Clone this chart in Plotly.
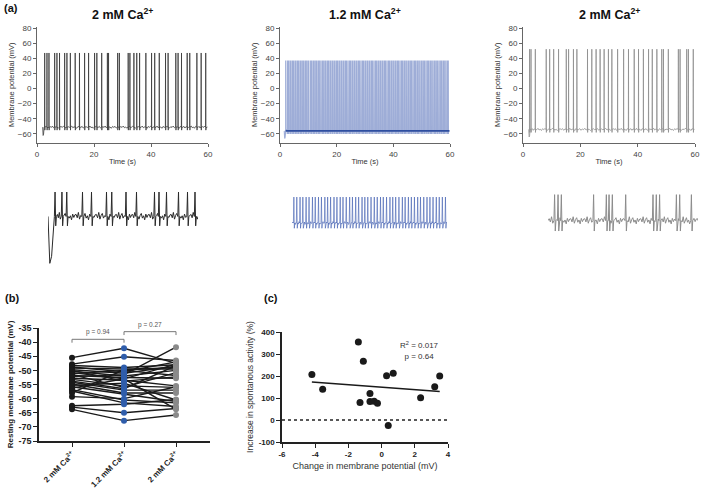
import numpy as np
import plotly.graph_objects as go

FONT = "Arial, Liberation Sans, sans-serif"
W, H = 709, 490

# ---------------- (a) whole recordings: spike times (s) ----------------
spikes_2ca_first = [2.7, 3.5, 4.2, 6.2, 7.0, 7.9, 9.7, 10.5, 11.7, 13.4, 14.9, 16.7,
                    18.1, 20.2, 21.0, 22.7, 24.7, 25.1, 28.3, 28.9, 32.0, 32.6, 34.0,
                    35.0, 36.0, 38.2, 40.2, 41.3, 42.9, 45.1, 46.0, 48.7, 49.5, 50.7,
                    52.7, 53.6, 56.1, 57.6, 59.2]
spikes_12ca = [2.0, 2.6, 3.0, 3.5, 3.9, 4.4, 4.8, 5.3, 5.7, 6.2, 6.6, 7.1, 7.5, 8.0,
               8.4, 8.9, 9.3, 9.8, 10.2, 10.8, 11.2, 11.7, 12.1, 12.6, 13.0, 13.5,
               13.9, 14.4, 14.9, 15.3, 15.8, 16.2, 16.7, 17.1, 17.6, 18.0, 18.5, 19.0,
               19.4, 19.9, 20.3, 20.8, 21.2, 21.7, 22.2, 22.6, 23.1, 23.5, 24.0, 24.5,
               24.9, 25.4, 25.8, 26.3, 26.8, 27.2, 27.7, 28.1, 28.6, 29.1, 29.5, 30.0,
               30.4, 30.9, 31.4, 31.8, 32.3, 32.7, 33.2, 33.7, 34.1, 34.6, 35.0, 35.5,
               36.0, 36.4, 36.9, 37.3, 37.8, 38.3, 38.7, 39.2, 39.6, 40.1, 40.6, 41.0,
               41.5, 41.9, 42.4, 42.9, 43.3, 43.8, 44.2, 44.7, 45.2, 45.6, 46.1, 46.5,
               47.0, 47.5, 47.9, 48.4, 48.8, 49.3, 49.8, 50.2, 50.7, 51.1, 51.6, 52.1,
               52.5, 53.0, 53.4, 53.9, 54.4, 54.8, 55.3, 55.7, 56.2, 56.7, 57.1, 57.6,
               58.0, 58.5, 59.0, 59.4]
spikes_2ca_wash = [2.3, 2.8, 4.3, 8.1, 9.3, 10.7, 12.4, 15.1, 15.9, 17.6, 18.8, 22.5,
                   24.0, 25.5, 26.9, 28.3, 29.8, 31.0, 33.0, 35.1, 36.8, 38.8, 40.3,
                   42.0, 43.8, 45.1, 46.7, 48.4, 49.0, 50.7, 54.2, 54.8, 57.1, 57.7, 59.4]

rec_labels = ["2 mM Ca<sup>2+</sup>", "1.2 mM Ca<sup>2+</sup>", "2 mM Ca<sup>2+</sup>"]
rec_start = [2.0, 1.5, 2.0]
rec_rest = [-51, -56, -54]
rec_peak = [47, 37, 52]
rec_dip = [-62, -66, -64]
rec_colors = ["#3a3a3a", "rgba(62,92,176,0.5)", "#8e8e8e"]
inset_colors = ["#2a2a2a", "rgba(62,92,176,0.75)", "#8c8c8c"]
wiggle_rec = [1.0, -1.2, 0.6, -0.4, 1.4, -0.8, 0.2, -1.5, 0.9, -0.3]

# ---------------- (a) expanded traces (arbitrary time 0-10) ----------------
inset_spikes = [
    [0.47, 0.93, 1.25, 2.3, 2.9, 3.9, 4.25, 5.2, 5.9, 7.1, 7.4, 7.9, 8.7, 9.3, 9.8],
    [0.12, 0.31, 0.52, 0.70, 0.91, 1.10, 1.32, 1.50, 1.71, 1.90, 2.12, 2.30, 2.49,
     2.71, 2.90, 3.11, 3.29, 3.50, 3.72, 3.90, 4.11, 4.30, 4.52, 4.70, 4.89, 5.10,
     5.31, 5.50, 5.71, 5.89, 6.10, 6.32, 6.50, 6.69, 6.90, 7.12, 7.30, 7.51, 7.70,
     7.90, 8.11, 8.29, 8.50, 8.71, 8.90, 9.10, 9.31, 9.50, 9.70, 9.90],
    [0.44, 0.67, 0.89, 3.04, 3.89, 4.07, 4.29, 5.18, 7.0, 7.22, 7.44, 8.56, 8.78, 9.56],
]
inset_peak = [73, 75, 80]
inset_trough = [-28, -15, -32]
inset_dip = [-140, None, None]
inset_wiggle = [[6, -4, 12, -8, 3, 9, -5, 2, -10, 7, -3, 5],
                [3, -4, 1, -3, 4, -1],
                [6, -4, 12, -8, 3, 9, -5, 2, -10, 7, -3, 5]]

# ---------------- (b) resting membrane potential, paired cells (mV) ----------------
rmp_2ca = [-45.5, -47.8, -48.3, -48.8, -49.2, -49.8, -50.3, -50.8, -51.2, -51.8,
           -52.2, -52.8, -53.2, -53.8, -54.2, -54.8, -55.3, -55.8, -56.3, -56.8,
           -57.3, -59.3, -62.5, -63.0, -63.8, -58.0, -50.0, -51.5]
rmp_12ca = [-42.2, -45.2, -49.0, -50.5, -49.5, -51.0, -52.0, -53.0, -50.0, -52.5,
            -51.5, -53.5, -55.5, -56.5, -57.0, -58.0, -54.5, -58.3, -53.0, -60.5,
            -61.5, -60.0, -62.0, -65.0, -67.8, -49.8, -53.8, -56.0]
rmp_2ca_wash = [-47.5, -46.5, -48.0, -47.0, -49.5, -48.5, -50.0, -47.8, -51.8, -52.8,
                -41.8, -55.5, -56.0, -48.3, -57.0, -58.0, -60.5, -61.0, -63.8, -61.5,
                -62.8, -55.8, -60.3, -63.5, -65.8, -49.0, -52.3, -50.8]
b_categories = ["2 mM Ca<sup>2+</sup>", "1.2 mM Ca<sup>2+</sup>", "2 mM Ca<sup>2+</sup>"]
b_pvalues = ["p = 0.94", "p = 0.27"]

# ---------------- (c) change in RMP vs increase in activity ----------------
delta_vm = [-4.2, -3.55, -1.4, -1.1, -1.3, -0.7, -0.7, -0.45, -0.25, 0.3, 0.4, 0.7,
            2.35, 3.2, 3.5]
activity_increase = [207, 140, 355, 267, 79, 120, 84, 85, 76, 201, -25, 212, 101,
                     151, 200]


def spike_trace(spikes, rest, peak, trough, start, end, step, width, wiggle,
                dip=None, dip_len=0.0):
    t, v = [start], [rest]
    if dip is not None:
        t += [start + dip_len * 0.3, start + dip_len * 0.6, start + dip_len]
        v += [dip, dip + (rest - dip) * 0.15, rest]
    prev = t[-1]
    k = 0
    for s in list(spikes) + [end + 2 * width]:
        n = int((s - width - prev) / step)
        for j in range(1, n + 1):
            t.append(prev + j * (s - width - prev) / (n + 1))
            v.append(rest + wiggle[k % len(wiggle)])
            k += 1
        if s > end:
            break
        t += [s - width, s, s + width, s + 2 * width]
        v += [rest, peak, trough, rest]
        prev = s + 2 * width
    t.append(end)
    v.append(rest)
    return t, v


def dom_x(a, b):
    return [a / W, b / W]


def dom_y(top, bottom):
    return [1 - bottom / H, 1 - top / H]


fig = go.Figure()

# (a) whole recordings
rec_spikes = [spikes_2ca_first, spikes_12ca, spikes_2ca_wash]
for i in range(3):
    t, v = spike_trace(rec_spikes[i], rec_rest[i], rec_peak[i], rec_rest[i] - 4,
                       rec_start[i], 59.8, 0.45, 0.05, wiggle_rec,
                       dip=rec_dip[i], dip_len=0.5)
    fig.add_trace(go.Scatter(x=t, y=v, mode="lines", xaxis=f"x{i+1}", yaxis=f"y{i+1}",
                             line=dict(color=rec_colors[i], width=0.8 if i != 1 else 1.1),
                             hoverinfo="skip"))
    if i == 1:
        # darker resting band under the dense spikes
        fig.add_trace(go.Scatter(x=[rec_start[i] + 0.5, 59.8], y=[rec_rest[i], rec_rest[i]],
                                 mode="lines", xaxis="x2", yaxis="y2",
                                 line=dict(color="#2f4fa0", width=1.6), hoverinfo="skip"))

# (a) expanded traces
for i in range(3):
    t, v = spike_trace(inset_spikes[i], 0, inset_peak[i], inset_trough[i],
                       0.0, 10.0, 0.08 if i != 1 else 0.05, 0.045 if i != 1 else 0.03,
                       inset_wiggle[i], dip=inset_dip[i], dip_len=0.4)
    fig.add_trace(go.Scatter(x=t, y=v, mode="lines", xaxis=f"x{i+4}", yaxis=f"y{i+4}",
                             line=dict(color=inset_colors[i], width=1 if i != 1 else 0.8),
                             hoverinfo="skip"))

# (b) paired lines
lx, ly = [], []
for a, b, c in zip(rmp_2ca, rmp_12ca, rmp_2ca_wash):
    lx += [0, 1, 2, None]
    ly += [a, b, c, None]
fig.add_trace(go.Scatter(x=lx, y=ly, mode="lines", xaxis="x7", yaxis="y7",
                         line=dict(color="#1a1a1a", width=1.4), hoverinfo="skip"))
for idx, (vals, col) in enumerate([(rmp_2ca, "#1a1a1a"), (rmp_12ca, "#2f5dab"),
                                   (rmp_2ca_wash, "#8a8a8a")]):
    fig.add_trace(go.Scatter(x=[idx] * len(vals), y=vals, mode="markers",
                             xaxis="x7", yaxis="y7",
                             marker=dict(color=col, size=6), hoverinfo="skip"))

# (c) scatter + regression
slope, icpt = np.polyfit(delta_vm, activity_increase, 1)
fx = [min(delta_vm), max(delta_vm)]
fig.add_trace(go.Scatter(x=fx, y=[slope * x + icpt for x in fx], mode="lines",
                         xaxis="x8", yaxis="y8", line=dict(color="#1a1a1a", width=1.5),
                         hoverinfo="skip"))
fig.add_trace(go.Scatter(x=delta_vm, y=activity_increase, mode="markers",
                         xaxis="x8", yaxis="y8", marker=dict(color="#1a1a1a", size=7),
                         hoverinfo="skip"))

axis_col = "#666666"


def rec_axes(n, x0, x1):
    xa = dict(domain=dom_x(x0, x1), range=[0, 60], tickvals=[0, 20, 40, 60],
              showline=True, linecolor=axis_col, linewidth=1, ticks="outside",
              ticklen=3, tickcolor=axis_col, showgrid=False, zeroline=False,
              tickfont=dict(size=8, color="#444"), anchor=f"y{n}", automargin=False,
              title=dict(text="Time (s)", font=dict(size=7.5, color="#333"), standoff=1))
    ya = dict(domain=dom_y(26.5, 143), range=[-72, 82],
              tickvals=[-60, -40, -20, 0, 20, 40, 60, 80],
              showline=True, linecolor=axis_col, linewidth=1, ticks="outside",
              ticklen=3, tickcolor=axis_col, showgrid=False, zeroline=False,
              tickfont=dict(size=8, color="#444"), anchor=f"x{n}", automargin=False,
              title=dict(text="Membrane potential (mV)",
                         font=dict(size=7.5, color="#333"), standoff=2))
    return xa, ya


layout_axes = {}
for n, (x0, x1) in enumerate([(37, 208), (280, 450), (523, 695)], start=1):
    xa, ya = rec_axes(n, x0, x1)
    layout_axes["xaxis" if n == 1 else f"xaxis{n}"] = xa
    layout_axes["yaxis" if n == 1 else f"yaxis{n}"] = ya

hidden = dict(visible=False, showgrid=False, zeroline=False, automargin=False)
inset_dom = [((48, 198), (191, 264), [-142, 76]),
             ((292, 447), (196, 230), [-20, 78]),
             ((548, 698), (194, 232), [-35, 82])]
for k, ((x0, x1), (yt, yb), yr) in enumerate(inset_dom, start=4):
    layout_axes[f"xaxis{k}"] = dict(hidden, domain=dom_x(x0, x1), range=[0, 10],
                                    anchor=f"y{k}")
    layout_axes[f"yaxis{k}"] = dict(hidden, domain=dom_y(yt, yb), range=yr,
                                    anchor=f"x{k}")

layout_axes["xaxis7"] = dict(domain=dom_x(39, 210), range=[-0.635, 2.654],
                             tickvals=[0, 1, 2], ticktext=[f"<b>{c}</b>" for c in b_categories],
                             tickangle=-45, showline=True, linecolor="#222", linewidth=1.5,
                             ticks="outside", ticklen=4, tickcolor="#222", showgrid=False,
                             zeroline=False, tickfont=dict(size=8, color="#222"),
                             anchor="y7", automargin=False)
layout_axes["yaxis7"] = dict(domain=dom_y(328, 441), range=[-75, -35],
                             tickvals=list(range(-75, -34, 5)),
                             ticktext=[f"<b>{v}</b>" for v in range(-75, -34, 5)],
                             showline=True, linecolor="#222", linewidth=1.5,
                             ticks="outside", ticklen=4, tickcolor="#222", showgrid=False,
                             zeroline=False, tickfont=dict(size=9, color="#222"),
                             anchor="x7", automargin=False,
                             title=dict(text="<b>Resting membrane potential (mV)</b>",
                                        font=dict(size=8, color="#222"), standoff=4))
layout_axes["xaxis8"] = dict(domain=dom_x(282, 448), range=[-6, 4],
                             tickvals=[-6, -4, -2, 0, 2, 4],
                             ticktext=[f"<b>{v}</b>" for v in [-6, -4, -2, 0, 2, 4]],
                             showline=True, linecolor="#222", linewidth=1.5,
                             ticks="outside", ticklen=4, tickcolor="#222", showgrid=False,
                             zeroline=False, tickfont=dict(size=8, color="#222"),
                             anchor="y8", automargin=False,
                             title=dict(text="Change in membrane potential (mV)",
                                        font=dict(size=9, color="#333"), standoff=4))
layout_axes["yaxis8"] = dict(domain=dom_y(332, 442), range=[-100, 400],
                             tickvals=[-100, 0, 100, 200, 300, 400],
                             ticktext=[f"<b>{v}</b>" for v in [-100, 0, 100, 200, 300, 400]],
                             showline=True, linecolor="#222", linewidth=1.5,
                             ticks="outside", ticklen=4, tickcolor="#222", showgrid=False,
                             zeroline=False, tickfont=dict(size=8, color="#222"),
                             anchor="x8", automargin=False,
                             title=dict(text="Increase in spontanous activity (%)",
                                        font=dict(size=8.5, color="#333"), standoff=4))

annotations = [
    dict(text="<b>(a)</b>", x=2 / W, y=1 - 8 / H, xanchor="left", yanchor="middle",
         font=dict(size=11, color="#111")),
    dict(text="<b>(b)</b>", x=3 / W, y=1 - 298 / H, xanchor="left", yanchor="middle",
         font=dict(size=11, color="#111")),
    dict(text="<b>(c)</b>", x=262 / W, y=1 - 298 / H, xanchor="left", yanchor="middle",
         font=dict(size=11, color="#111")),
]
for (x0, x1), lab in zip([(37, 208), (280, 450), (523, 695)], rec_labels):
    annotations.append(dict(text=f"<b>{lab}</b>", x=(x0 + x1) / 2 / W, y=1 - 14 / H,
                            xanchor="center", yanchor="middle",
                            font=dict(size=12.5, color="#111")))
for a in annotations:
    a.update(xref="paper", yref="paper", showarrow=False)

# p-value brackets in (b)
shapes = []
for (xa, xb), yb, lab in zip([(0, 1), (1, 2)], [-39.0, -36.3], b_pvalues):
    shapes.append(dict(type="path", xref="x7", yref="y7",
                       path=f"M {xa},{yb - 1.2} L {xa},{yb} L {xb},{yb} L {xb},{yb - 1.2}",
                       line=dict(color="#777", width=1)))
    annotations.append(dict(text=lab, x=(xa + xb) / 2, y=yb + 0.3, xref="x7", yref="y7",
                            yanchor="bottom", showarrow=False,
                            font=dict(size=6.5, color="#555")))

# dotted zero line in (c)
shapes.append(dict(type="line", xref="x8", yref="y8", x0=-6, x1=4, y0=0, y1=0,
                   line=dict(color="#222", width=1.5, dash="dot")))
annotations.append(dict(text="R<sup>2</sup> = 0.017<br>p = 0.64", x=2.3, y=318,
                        xref="x8", yref="y8", showarrow=False, align="center",
                        font=dict(size=8, color="#333")))

fig.update_layout(
    width=W, height=H,
    margin=dict(l=0, r=0, t=0, b=0),
    paper_bgcolor="white", plot_bgcolor="white",
    showlegend=False,
    font=dict(family=FONT, size=9, color="#222"),
    annotations=annotations,
    shapes=shapes,
    **layout_axes,
)

fig.write_html("out.html", config={"displayModeBar": False},
               post_script="document.body.style.margin='0';")
